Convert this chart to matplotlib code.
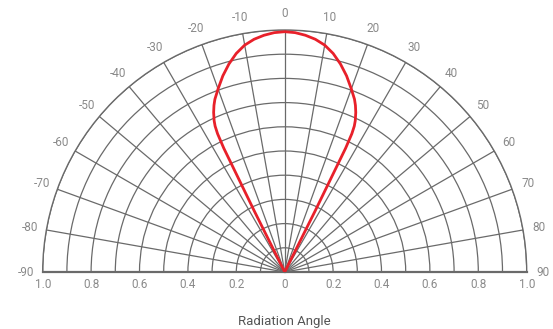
import numpy as np
import matplotlib.pyplot as plt

# radiation pattern (angle in degrees, relative intensity), symmetric about 0
angle_deg = [0, 2.5, 5, 7.5, 10, 12.5, 15, 17.5, 20, 22, 23, 24, 25, 25.5, 25.9,
             26.2, 26.5, 26.8]
intensity = [0.993, 0.99, 0.982, 0.97, 0.952, 0.925, 0.89, 0.85, 0.805, 0.77,
             0.748, 0.722, 0.69, 0.668, 0.635, 0.57, 0.28, 0.0]

theta_ticks = list(range(-90, 91, 10))
r_ticks = [0.1, 0.2, 0.3, 0.4, 0.5, 0.6, 0.7, 0.8, 0.9, 1.0]
r_labels = ["0", "0.2", "0.4", "0.6", "0.8", "1.0"]
r_label_vals = [0.0, 0.2, 0.4, 0.6, 0.8, 1.0]

grid_col = "#6a6a6a"
text_col = "#8a8a8a"
red = "#e8202a"

plt.rcParams["font.family"] = ["Roboto", "DejaVu Sans"]

fig = plt.figure(figsize=(5.53, 3.29), dpi=100)
cx, cy, R = 284.7, 272, 242
# half-circle wedge sits vertically centred in a square box of side 2R
ax = fig.add_axes([(cx - R) / 553, (329 - cy - 0.5 * R) / 329, 2 * R / 553, 2 * R / 329],
                  projection="polar")
ax.set_theta_zero_location("N")
ax.set_theta_direction(-1)
ax.set_thetamin(-90)
ax.set_thetamax(90)
ax.set_ylim(0, 1.0)

# full curve: mirror the right half onto the left
th = np.array([-a for a in angle_deg[::-1]] + angle_deg[1:])
rr = np.array(intensity[::-1] + intensity[1:])
ax.plot(np.deg2rad(th), rr, color=red, lw=2.0, zorder=5)

ax.set_thetagrids(theta_ticks, [str(t) for t in theta_ticks],
                  color=text_col, fontsize=8.5)
ax.tick_params(axis="x", pad=1.5)
ax.set_rgrids(r_ticks, labels=[""] * len(r_ticks))
ax.grid(True, color=grid_col, lw=0.9)
for s in ax.spines.values():
    s.set_color(grid_col)
    s.set_linewidth(1.0)
ax.spines["start"].set_linewidth(1.6)
ax.spines["end"].set_linewidth(1.6)

# radial scale labels along the baseline, both sides
for side in (-90, 90):
    for v, lab in zip(r_label_vals, r_labels):
        if side == 90 and v == 0.0:
            continue
        ax.annotate(lab, xy=(np.deg2rad(side), v), xycoords="data",
                    xytext=(0, -4), textcoords="offset points",
                    ha="center", va="top", color=text_col, fontsize=8.5,
                    annotation_clip=False)

fig.text(cx / 553, 1 - 322 / 329, "Radiation Angle", ha="center", va="center",
         color="#555555", fontsize=9.5)

fig.savefig("out.png", dpi=100)
